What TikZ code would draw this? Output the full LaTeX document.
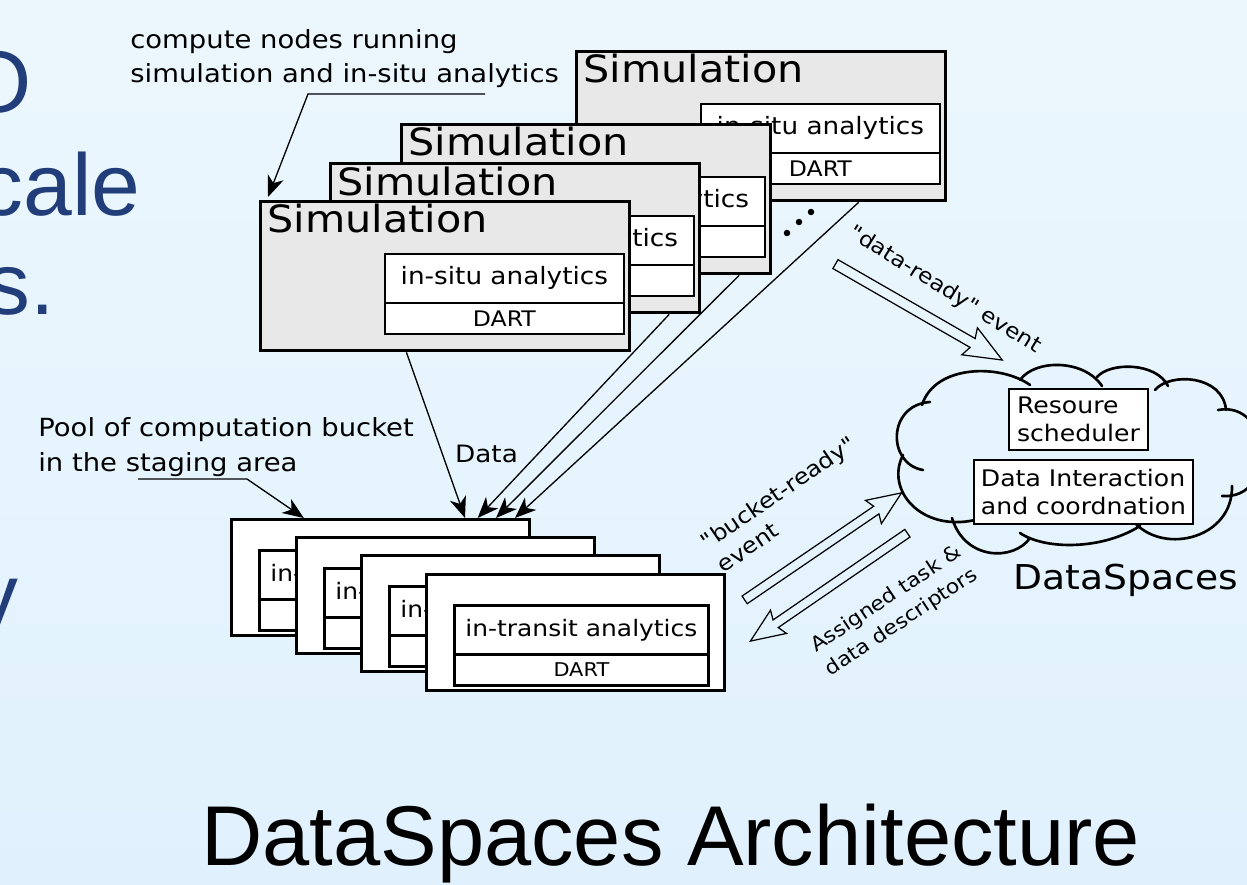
\documentclass[tikz,border=0pt]{standalone}
\usepackage{fontspec}
\setmainfont{DejaVu Sans}[FakeStretch=1.1, Ligatures=TeXOff]
\newfontfamily\slidefont{Liberation Sans}
\usetikzlibrary{arrows.meta}
\usetikzlibrary{calc}
\usetikzlibrary{shapes.arrows}
\definecolor{simgray}{RGB}{232,232,232}
\definecolor{bgtop}{RGB}{236,247,253}
\definecolor{bgbottom}{RGB}{224,241,253}
\definecolor{slideblue}{RGB}{33,62,122}
\tikzset{simbox/.style = {draw, line width=1.9pt, fill=simgray, anchor=north west, inner sep=0, minimum width=7.38cm, minimum height=2.98cm}}
\tikzset{simana/.style = {draw, line width=1pt, fill=white, anchor=north west, inner sep=0, minimum width=4.78cm, minimum height=0.98cm, font=\fontsize{13.6}{16}\selectfont}}
\tikzset{simdart/.style = {simana, minimum height=0.62cm, font=\fontsize{12.2}{14}\selectfont}}
\tikzset{simtitle/.style = {anchor=base west, inner sep=0, font=\fontsize{21.4}{25}\selectfont}}
\tikzset{bucket/.style = {draw, line width=1.9pt, fill=white, anchor=north west, inner sep=0, minimum width=5.96cm, minimum height=2.32cm}}
\tikzset{bucketana/.style = {draw, line width=1.6pt, fill=white, anchor=north west, inner sep=0, minimum width=5.08cm, minimum height=0.98cm, font=\fontsize{12.9}{15}\selectfont}}
\tikzset{bucketdart/.style = {bucketana, minimum height=0.62cm, font=\fontsize{10.8}{13}\selectfont}}
\tikzset{note/.style = {anchor=base west, inner sep=0, align=left, font=\fontsize{14.2}{19.8}\selectfont}}
\tikzset{leader/.style = {line width=0.75pt, -{Stealth[length=12pt, width=9.5pt, inset=3.5pt]}}}
\tikzset{dataline/.style = {leader}}
\tikzset{dot/.style = {circle, fill, inner sep=0, minimum size=0.13cm}}
\tikzset{cloudline/.style = {line width=1.5pt, line cap=round}}
\tikzset{dsbox/.style = {draw, line width=0.75pt, fill=white, inner sep=0.08cm, align=left, font=\fontsize{13}{15.8}\selectfont}}
\tikzset{hollowarrow/.style = {single arrow, draw, line width=0.7pt, inner xsep=0, inner ysep=0.08cm, minimum width=0, single arrow head extend=0.19cm, single arrow tip angle=45, single arrow head indent=0.07cm}}
\tikzset{evlabel/.style = {inner sep=0, font=\fontsize{12}{16}\selectfont}}
\tikzset{slidetext/.style = {anchor=base east, inner sep=0, text=slideblue, font=\slidefont\fontsize{49.9}{60}\selectfont}}

\begin{document}
\begin{tikzpicture}[x=0.02cm, y=-0.02cm]
    \useasboundingbox (0,0) rectangle (1247,885);
    \clip (0,0) rectangle (1247,885);
    \shade [top color=bgtop, bottom color=bgbottom] (0,0) rectangle (1247,885);

    \node [slidetext] (slideo) at (32,113) {O};
    \node [slidetext] (slidecale) at (141,215) {cale};
    \node [slidetext] (slides) at (55,314) {s.};
    \node [slidetext] (slidey) at (19,625) {y};

    \foreach \i/\x/\y in {4/575/50, 3/400/123, 2/329/162, 1/259/200} {
        \node [simbox] (sim\i) at (\x,\y) {};
        \node [simana] (simana\i) at ($(sim\i.north west)+(125,53)$) {in-situ analytics};
        \node [simdart] (simdart\i) at ($(sim\i.north west)+(125,102)$) {DART};
        \node [simtitle] (simtitle\i) at ($(sim\i.north west)+(8,33)$) {Simulation};
    }

    \foreach \i/\x/\y in {1/230/518, 2/295/536, 3/360/554, 4/425/573} {
        \node [bucket] (bucket\i) at (\x,\y) {};
        \node [bucketana] (bucketana\i) at ($(bucket\i.north west)+(28,31)$) {in-transit analytics};
        \node [bucketdart] (bucketdart\i) at ($(bucket\i.north west)+(28,80)$) {DART};
    }

    \node [note] (simnote) at (130,83) {compute nodes running\\simulation and in-situ analytics};
    \coordinate (simnoteend) at (485,94);
    \draw [leader] (simnoteend) -- (308,94) -- ($(sim1.north west)+(9,-3)$);

    \node [note] (poolnote) at (38,471) {Pool of computation bucket\\in the staging area};
    \coordinate (poolnoteend) at (138,479);
    \draw [leader] (poolnoteend) -- (247,479) -- ($(bucket1.north west)!0.245!(bucket1.north east)$);

    \draw [dataline] ($(sim1.south west)!0.396!(sim1.south east)$) -- ($(bucket1.north west)!0.78!(bucket1.north east)$) node [pos=0.615, right=0.24cm, inner sep=0, font=\fontsize{13.6}{16}\selectfont] (datalbl) {Data};
    \draw [dataline] ($(sim2.south west)!0.914!(sim2.south east)$) -- ($(bucket1.north west)!0.822!(bucket1.north east)$);
    \draw [dataline] ($(sim3.south west)!0.911!(sim3.south east)$) -- ($(bucket1.north west)!0.883!(bucket1.north east)$);
    \draw [dataline] ($(sim4.south west)!0.762!(sim4.south east)$) -- ($(bucket1.north west)!0.946!(bucket1.north east)$);

    \node [dot] (dot1) at (787,233) {};
    \node [dot] (dot2) at (799,222) {};
    \node [dot] (dot3) at (811,212) {};

    \draw [cloudline]
        (922,405) .. controls (935,364) and (1001,364) .. (1030,385)
        (1020,380) .. controls (1035,359) and (1084,359) .. (1102,386)
        (1097,377) .. controls (1110,362) and (1156,362) .. (1168,386)
        (1155,390) .. controls (1170,372) and (1223,375) .. (1226,410)
        (1218,410) .. controls (1272,400) and (1278,500) .. (1222,496)
        (1232,486) .. controls (1233,538) and (1165,555) .. (1135,523)
        (1140,526) .. controls (1102,550) and (1045,550) .. (1020,533)
        (1030,538) .. controls (1014,561) and (965,561) .. (952,518)
        (975,520) .. controls (921,532) and (885,490) .. (903,455)
        (923,470) .. controls (887,464) and (887,405) .. (930,402);

    \node [dsbox, minimum width=2.78cm, minimum height=1.22cm] (scheduler) at (1078.5,419.5) {Resoure\\scheduler};
    \node [dsbox, minimum width=4.38cm, minimum height=1.28cm] (interaction) at (1083.5,492) {Data Interaction\\and coordnation};
    \node [anchor=base west, inner sep=0, font=\fontsize{19.5}{23}\selectfont] (dslabel) at (1013,589) {DataSpaces};

    \node [hollowarrow, rotate=-29.9, minimum height=3.85cm, inner ysep=0.09cm, single arrow head extend=0.21cm] (readyarrow) at (913.5,309) {};
    \node [hollowarrow, rotate=34.3, minimum height=3.8cm] (bucketarrow) at (818.5,549.5) {};
    \node [hollowarrow, rotate=214.5, minimum height=3.81cm] (taskarrow) at (833.5,584) {};

    \node [evlabel, rotate=-31.9] (readylbl) at (945,290) {"data-ready" event};
    \node [evlabel, rotate=34.3, align=left, font=\fontsize{12.5}{16}\selectfont] (bucketlbl) at (786,504) {"bucket-ready"\\event};
    \node [evlabel, rotate=33.6, align=center, font=\fontsize{11.3}{15.7}\selectfont] (tasklbl) at (894,611) {Assigned task \&\\data descriptors};

    \node [anchor=base west, inner sep=0, font=\slidefont\fontsize{48.3}{50}\selectfont] (title) at (201,865) {DataSpaces Architecture};
\end{tikzpicture}
\end{document}
